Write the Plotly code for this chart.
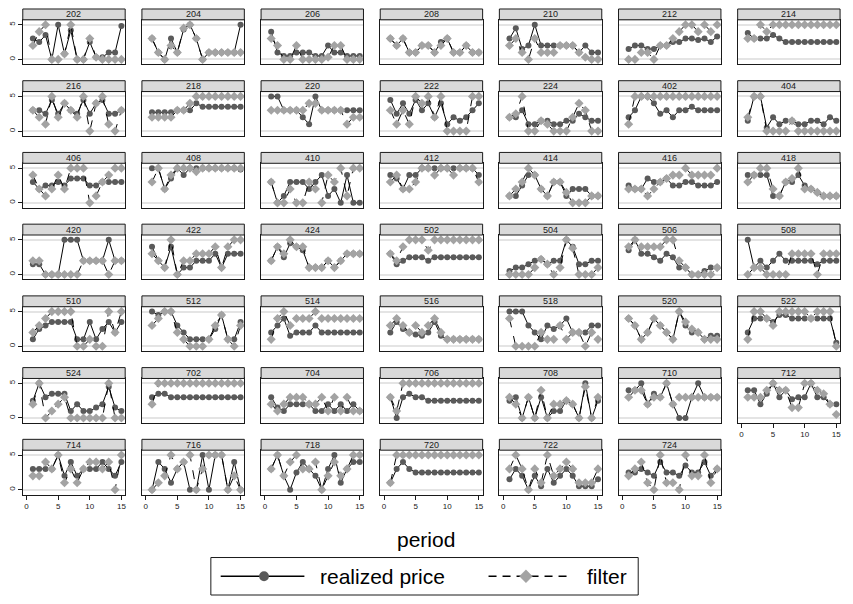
import plotly.graph_objects as go

periods = list(range(1, 16))

subjects = ["202", "204", "206", "208", "210", "212", "214",
            "216", "218", "220", "222", "224", "402", "404",
            "406", "408", "410", "412", "414", "416", "418",
            "420", "422", "424", "502", "504", "506", "508",
            "510", "512", "514", "516", "518", "520", "522",
            "524", "702", "704", "706", "708", "710", "712",
            "714", "716", "718", "720", "722", "724"]

realized_price = [
    [3, 2.5, 3.5, 0, 5, 0.8, 4.2, 0, 0, 2.5, 0.3, 0.3, 1, 1, 4.8],          # 202
    [3, 1, 0, 3, 1, 4.3, 5, 3, 0, 1, 1, 1, 1, 1, 5],                       # 204
    [4, 1, 0.5, 0.5, 1, 1, 1, 0.5, 0.5, 2, 1, 1, 0.5, 0.5, 0.5],           # 206
    [3, 2, 3, 1, 1, 2, 2, 1, 2.5, 3, 1, 1, 2, 1, 1],                       # 208
    [3, 4.5, 1.5, 2, 5, 2, 2, 2, 2, 2, 2, 1, 2, 1, 1],                     # 210
    [1.5, 2, 2, 1.5, 1.5, 2, 2, 2.5, 2.5, 3, 3, 2.8, 3, 2.5, 3.3],         # 212
    [3.8, 3, 3, 3, 3.5, 3, 2.5, 2.5, 2.5, 2.5, 2.5, 2.5, 2.5, 2.5, 2.5],   # 214
    [3, 3, 2.5, 4.5, 2.5, 4, 3, 2.5, 4.5, 2.5, 4, 4.5, 2.5, 2.5, 3],       # 216
    [2.7, 2.7, 2.7, 2.7, 3, 3, 3, 4, 3.5, 3.5, 3.5, 3.5, 3.5, 3.5, 3.5],   # 218
    [5, 5, 3, 3, 3, 2, 1, 5, 3, 3, 3, 3, 3, 3, 3],                         # 220
    [4.5, 2.5, 4, 2.5, 4.5, 3, 4, 2, 4, 1, 2, 1.5, 2, 3, 4],               # 222
    [2, 2, 3, 1, 1, 1.5, 1.5, 1, 1, 1.5, 1.5, 2.5, 2, 1.5, 1.5],           # 224
    [2, 3, 5, 5, 4, 2.5, 3, 2, 3, 3, 3.5, 3, 3, 3, 3],                     # 402
    [1.5, 5, 5, 0.5, 2, 1, 1.5, 1.5, 1, 1, 1.5, 1.5, 1, 2, 1.5],           # 404
    [3, 2, 2.5, 2.5, 3, 2.5, 3.5, 3.5, 3.5, 2.5, 2.5, 3, 3, 3, 3],         # 406
    [5, 5, 2, 3.5, 5, 4, 5, 5, 5, 5, 5, 5, 5, 5, 4.8],                     # 408
    [3, 0, 1, 3, 3, 3, 2, 3, 4, 1, 2, 0, 4, 0, 0],                         # 410
    [4, 3.5, 2, 4, 4, 5, 5, 5, 5, 5, 5, 5, 5, 5, 4],                       # 412
    [1, 1, 2.5, 4, 4, 2, 1, 3, 3, 1, 2, 2, 2, 1, 1],                       # 414
    [2.5, 2, 2, 3.5, 3, 3, 3.5, 2.5, 2.5, 3, 3, 2.5, 2.5, 2.5, 3],         # 416
    [4, 4, 4, 4, 1, 1, 3, 3, 4, 2.5, 2, 1.5, 1, 1, 1],                     # 418
    [1.5, 1.5, 0, 0, 0, 5, 5, 5, 2, 2, 2, 2, 5, 2, 2],                     # 420
    [4, 2, 1, 4, 0, 1, 1, 2, 2, 2, 3, 1, 3, 3, 3],                         # 422
    [2, 4, 2.5, 4.5, 4, 3.5, 1, 1, 1, 2, 1, 2, 3, 3, 3],                   # 424
    [3, 1.5, 2, 2.5, 2.5, 2.5, 2, 2.5, 2.5, 2.5, 2.5, 2.5, 2.5, 2.5, 2.5], # 502
    [0.5, 1, 1, 1.5, 2, 2.2, 1.5, 2, 2, 5, 4, 1.5, 1.5, 2, 2],             # 504
    [3.5, 5, 3, 3, 2.5, 2, 3, 2.5, 1, 1, 0, 0, 0.5, 1, 1],                 # 506
    [5, 1, 2, 1, 2, 3, 2, 2, 2, 2, 2, 1.5, 2, 2, 2],                       # 508
    [1, 2.5, 3, 3.5, 3.5, 3.5, 3.5, 1, 1, 3.5, 1, 2.5, 3.5, 2, 3.5],       # 510
    [5, 4.5, 5, 5, 3, 2, 1, 1, 1, 1, 2.5, 4.5, 1, 1, 3.5],                 # 512
    [2, 3, 4, 1.5, 2, 2, 2, 3, 2, 2, 2, 2, 2, 2, 2],                       # 514
    [2, 3.5, 2.5, 2, 1.7, 1.5, 2, 3.5, 1.5, 1, 1, 1, 1, 1, 1],             # 516
    [5, 5, 5, 3, 2, 1, 3, 2.5, 3, 4, 2, 2, 2, 3, 3],                       # 518
    [4, 3, 1, 2, 4, 3, 2, 1, 5, 3, 2, 2, 1, 1.5, 1.5],                     # 520
    [2, 4, 4, 4, 3.5, 4.5, 4.5, 4, 4, 4, 4, 4, 4, 4, 0.5],                 # 522
    [2.5, 5, 3, 3.5, 3.5, 3.5, 1, 2, 1, 1, 1.5, 2, 4.5, 1.5, 1],           # 524
    [3, 3.5, 3.5, 3, 3, 3, 3, 3, 3, 3, 3, 3, 3, 3, 3],                     # 702
    [3, 1.5, 1, 2, 2, 2, 2, 1, 1, 2, 1, 2, 1, 2, 1],                       # 704
    [3, 0, 3, 3.5, 3, 3, 2.5, 2.5, 2.5, 2.5, 2.5, 2.5, 2.5, 2.5, 2.5],     # 706
    [2.5, 3, 0, 3, 0, 3, 0, 1, 1, 2.5, 2, 0, 5, 0, 2.5],                   # 708
    [4, 4, 5, 2, 3.5, 3, 5, 2, 0, 0, 3, 5, 3, 3, 3],                       # 710
    [4, 4, 2, 3.5, 5, 3, 4, 2.7, 3, 3, 5, 3, 3, 2, 2],                     # 712
    [3, 3, 3, 3, 5, 2, 4, 2, 3, 3, 3, 4, 3, 2, 4],                         # 714
    [0, 4, 3, 1, 3, 4, 0, 0, 5, 0, 5, 5, 0, 4, 0],                         # 716
    [3, 5, 2, 0, 2.5, 4, 3, 2, 0, 3, 5, 1, 3, 4, 4],                       # 718
    [1, 3, 4, 3, 2.5, 2.5, 2.5, 2.5, 2.5, 2.5, 2.5, 2.5, 2.5, 2.5, 2.5],   # 720
    [1.5, 3, 2, 0, 2, 0.5, 3, 1, 2, 3, 2, 0.5, 0.5, 0.5, 1.5],             # 722
    [2.5, 2.5, 3, 2.5, 2, 4, 2.5, 2.5, 2, 3.5, 2.5, 2.5, 4, 2, 3],         # 724
]

filter_price = [
    [2, 4, 5, 0, 0, 0.8, 5, 0, 0, 3, 0.3, 0, 0, 0, 0],                     # 202
    [3, 1, 0, 2, 1, 4.5, 5, 3, 0, 1, 1, 1, 1, 1, 1],                       # 204
    [3, 2, 0, 0, 2, 0, 0, 0, 0, 0.3, 2, 2, 0, 0, 0],                       # 206
    [3, 2, 3, 1, 1, 2, 2, 1, 2, 3, 1, 1, 2, 1, 1],                         # 208
    [2, 3, 1, 0, 3, 1, 1, 1, 2, 2, 2, 1, 0.3, 0, 0],                       # 210
    [0, 0, 1, 1, 0, 2, 2, 3, 4, 5, 5, 4, 5, 4, 5],                         # 212
    [3, 3, 5, 4, 5, 5, 5, 5, 5, 5, 5, 5, 5, 5, 5],                         # 214
    [3, 2, 1, 5, 2, 4, 3, 2, 5, 0, 4, 5, 1, 0, 3],                         # 216
    [2, 2, 2, 2, 3, 3, 4, 5, 5, 5, 5, 5, 5, 5, 5],                         # 218
    [3, 3, 3, 3, 3, 3, 4, 4, 3, 3, 3, 3, 1, 2, 2],                         # 220
    [3, 1, 3, 1, 5, 4, 5, 2, 5, 0, 0, 0, 0, 5, 5],                         # 222
    [2, 2.5, 5, 0, 0, 1.5, 1, 0, 0, 0, 2, 4, 3, 0, 0],                     # 224
    [1, 5, 5, 5, 5, 5, 5, 5, 5, 5, 5, 5, 5, 5, 5],                         # 402
    [2, 5, 5, 0, 0, 0, 0, 1.5, 0, 0, 0, 0, 0, 0, 0],                       # 404
    [4, 2, 1, 2, 4, 2, 5, 5, 5, 0, 1, 3, 4, 5, 5],                         # 406
    [3, 5, 2, 4, 5, 5, 5, 4.5, 5, 5, 5, 5, 5, 5, 5],                       # 408
    [3, 0, 0, 2, 0, 0, 3, 2, 0, 4, 3, 5, 1, 5, 5],                         # 410
    [3, 4, 2, 2, 3, 5, 5, 4, 5, 5, 4, 5, 5, 5, 3],                         # 412
    [1, 2, 3, 5, 4, 2, 1, 3, 3, 1.5, 0, 0, 0, 1, 1],                       # 414
    [2, 2, 2, 1, 2, 3, 3.5, 4, 4, 5, 4, 4, 4, 4, 5],                       # 416
    [3, 4, 5, 5, 2, 1, 3, 3.5, 5, 2, 2, 1.5, 1, 1, 1],                     # 418
    [2, 2, 0, 0, 0, 0, 0, 0, 2, 2, 2, 2, 0, 2, 2],                         # 420
    [3, 2, 1, 5, 0, 2, 2, 3, 3, 3, 4, 1, 4, 5, 5],                         # 422
    [2, 4, 3, 5, 4, 4, 1, 1, 1, 2, 1, 2, 3, 3, 3],                         # 424
    [3, 2, 4, 5, 5, 5, 3.5, 5, 5, 5, 5, 5, 5, 5, 5],                       # 502
    [0, 0, 0, 0, 1, 2.2, 1.5, 0, 1, 5, 3.8, 0, 0, 0, 1],                   # 504
    [4, 5, 4, 4, 4, 4, 5, 5, 2, 1, 0, 0, 0, 0, 1],                         # 506
    [0, 1, 1, 0, 0, 0, 0, 3, 3, 3, 3, 0, 3, 3, 3],                         # 508
    [2, 3, 4, 5, 5, 5, 5, 0, 0, 1, 0, 0, 5, 2, 5],                         # 510
    [3, 4, 5, 5, 2, 1, 0, 0, 0, 1, 3, 4.5, 1, 0, 3],                       # 512
    [1, 4, 5, 3, 4, 4, 4, 5, 4, 4, 4, 4, 4, 4, 4],                         # 514
    [3, 4, 3, 2, 3, 2, 3, 4, 2, 1, 1, 1, 1, 1, 1],                         # 516
    [4, 0, 0, 0, 0, 2, 1, 1, 3, 1, 2, 2, 0, 2, 1],                         # 518
    [4, 3, 1, 2, 4, 3, 2, 1, 5, 3.5, 2.5, 2, 1, 1, 1],                     # 520
    [1, 5, 5, 4, 3, 5, 5, 5, 5, 5, 4, 5, 5, 5, 0],                         # 522
    [2, 5, 0, 1, 2, 3, 0, 0, 0, 0, 0, 0, 5, 0, 0],                         # 524
    [2, 5, 5, 5, 5, 5, 5, 5, 5, 5, 5, 5, 5, 5, 5],                         # 702
    [2, 1, 2, 3, 3, 3, 2, 2, 3, 1, 3, 1, 3, 1, 1],                         # 704
    [3, 1, 5, 5, 5, 5, 5, 5, 5, 5, 5, 5, 5, 5, 5],                         # 706
    [3, 2, 0, 3, 0, 4, 0, 2, 2, 2.5, 2, 0, 4.5, 0, 3],                     # 708
    [3, 4, 4, 2, 3, 3, 5, 2, 3, 3, 3, 3, 3, 3, 3],                         # 710
    [3, 3, 3, 4, 5, 4, 4, 1.5, 1.5, 5, 5, 4, 3.5, 2, 0.5],                 # 712
    [2, 2, 4, 3, 5, 1, 3, 1, 3, 4, 4, 3, 4, 0, 5],                         # 714
    [0, 1, 2, 5, 3, 4, 5, 0, 3, 5, 5, 5, 0, 2, 0],                         # 716
    [3, 5, 2, 4, 5, 3, 3, 4, 0, 2, 4, 2, 3, 5, 5],                         # 718
    [1, 5, 5, 5, 5, 5, 5, 5, 5, 5, 5, 5, 5, 5, 5],                         # 720
    [3, 5, 3, 0, 3, 1, 5, 2, 3, 4, 3, 1, 1, 1, 3],                         # 722
    [2, 3, 4, 1, 0, 5, 1, 1, 0, 5, 2, 2, 5, 1, 3],                         # 724
]

x_ticks = [0, 5, 10, 15]
y_ticks = [0, 5]
legend_labels = ["realized price", "filter"]

# The page body keeps an 8px margin on every side; the figure is sized so the
# page never scrolls, and reference-pixel positions are mapped into it.
PAGE_W, PAGE_H = 853, 604
M = 8
W, H = PAGE_W - 2 * M, PAGE_H - 2 * M
X0, X1 = 7, 857     # reference pixel span mapped onto the figure width
Y0, Y1 = 6, 602     # reference pixel span mapped onto the figure height
NCOL = 7
pw, ph, hh = 104, 45, 11
col_left = [22 + 121 * c for c in range(NCOL)]
row_top = [7 + 72.7 * r for r in range(7)]
FONT = "Liberation Sans, Arial, Helvetica, sans-serif"
DARK = "#5a5a5a"
LIGHT = "#a3a3a3"


def fx(px):
    return min(max((px - X0) / (X1 - X0), 0.0), 1.0)


def fy(py):
    return min(max(1 - (py - Y0) / (Y1 - Y0), 0.0), 1.0)


fig = go.Figure()
layout = {}
shapes = []
annotations = []
n = len(subjects)
for i, s in enumerate(subjects):
    r, c = divmod(i, NCOL)
    k = i + 1
    xname = "x" if k == 1 else f"x{k}"
    yname = "y" if k == 1 else f"y{k}"
    L = col_left[c]
    htop = row_top[r]
    top = htop + hh
    bot = top + ph
    below_empty = (i + NCOL) >= n
    xkey = "xaxis" if k == 1 else f"xaxis{k}"
    ykey = "yaxis" if k == 1 else f"yaxis{k}"
    layout[xkey] = dict(domain=[fx(L), fx(L + pw)], anchor=yname,
                        range=[-0.6, 15.6], showgrid=False, zeroline=False,
                        showline=True, mirror=True, linecolor="#1a1a1a", linewidth=1,
                        tickvals=x_ticks, ticks="outside" if below_empty else "",
                        ticklen=4, tickcolor="#1a1a1a",
                        showticklabels=below_empty, ticklabeloverflow="allow",
                        tickfont=dict(size=8, color="#1a1a1a"))
    layout[ykey] = dict(domain=[fy(bot), fy(top)], anchor=xname,
                        range=[-0.7, 5.7], showgrid=True, gridcolor="#e4e4e4",
                        gridwidth=2, zeroline=False,
                        showline=True, mirror=True, linecolor="#1a1a1a", linewidth=1,
                        tickvals=y_ticks, ticks="outside" if c == 0 else "",
                        ticklen=4, tickcolor="#1a1a1a",
                        showticklabels=(c == 0), tickangle=-90,
                        tickfont=dict(size=8, color="#1a1a1a"))
    fig.add_trace(go.Scatter(
        x=periods, y=realized_price[i], mode="lines+markers",
        name=legend_labels[0], showlegend=False,
        line=dict(color="black", width=1),
        marker=dict(symbol="circle", size=6, color=DARK),
        xaxis=xname, yaxis=yname))
    fig.add_trace(go.Scatter(
        x=periods, y=filter_price[i], mode="lines+markers",
        name=legend_labels[1], showlegend=False,
        line=dict(color="black", width=1, dash="dash"),
        marker=dict(symbol="diamond", size=7, color=LIGHT),
        xaxis=xname, yaxis=yname))
    shapes.append(dict(type="rect", xref="paper", yref="paper",
                       x0=fx(L), x1=fx(L + pw),
                       y0=fy(top), y1=fy(htop),
                       fillcolor="#d9d9d9", line=dict(color="#1a1a1a", width=1)))
    annotations.append(dict(text=s, xref="paper", yref="paper",
                            x=fx(L + pw / 2), y=fy(htop + hh / 2),
                            xanchor="center", yanchor="middle", showarrow=False,
                            font=dict(size=9, color="#1a1a1a")))

# x-axis title
annotations.append(dict(text="period", xref="paper", yref="paper",
                        x=fx(431), y=fy(545), xanchor="center", yanchor="middle",
                        showarrow=False, font=dict(size=21, color="black")))

# legend (drawn as a key box)
ly = 582
shapes.append(dict(type="rect", xref="paper", yref="paper",
                   x0=fx(213), x1=fx(647), y0=fy(601), y1=fy(563),
                   fillcolor="white", line=dict(color="#1a1a1a", width=1)))
shapes.append(dict(type="line", xref="paper", yref="paper",
                   x0=fx(223), x1=fx(308), y0=fy(ly), y1=fy(ly),
                   line=dict(color="black", width=1.3)))
shapes.append(dict(type="circle", xref="paper", yref="paper",
                   x0=fx(262), x1=fx(272), y0=fy(ly + 5), y1=fy(ly - 5),
                   fillcolor=DARK, line=dict(color=DARK, width=0)))
annotations.append(dict(text=legend_labels[0], xref="paper", yref="paper",
                        x=fx(322), y=fy(ly), xanchor="left", yanchor="middle",
                        showarrow=False, font=dict(size=21, color="black")))
shapes.append(dict(type="line", xref="paper", yref="paper",
                   x0=fx(495), x1=fx(577), y0=fy(ly), y1=fy(ly),
                   line=dict(color="black", width=1.3, dash="8px,6px")))
d = 6.5
shapes.append(dict(type="path", xref="paper", yref="paper",
                   path=(f"M {fx(533 - d)},{fy(ly)} L {fx(533)},{fy(ly - d)} "
                         f"L {fx(533 + d)},{fy(ly)} L {fx(533)},{fy(ly + d)} Z"),
                   fillcolor=LIGHT, line=dict(color=LIGHT, width=0.5)))
annotations.append(dict(text=legend_labels[1], xref="paper", yref="paper",
                        x=fx(593), y=fy(ly), xanchor="left", yanchor="middle",
                        showarrow=False, font=dict(size=21, color="black")))

fig.update_layout(
    **layout,
    width=W, height=H,
    margin=dict(l=0, r=0, t=0, b=0),
    paper_bgcolor="white", plot_bgcolor="white",
    font=dict(family=FONT, color="black"),
    shapes=shapes, annotations=annotations,
    showlegend=False,
)

fig.write_html("out.html")
